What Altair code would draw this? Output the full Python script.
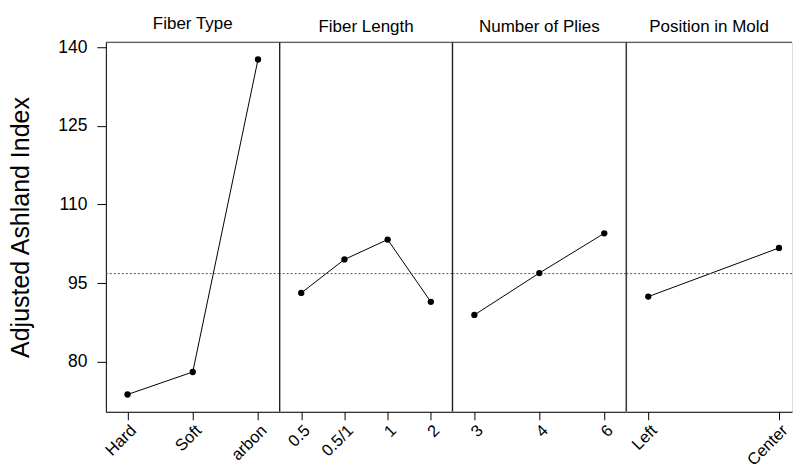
import altair as alt
import pandas as pd

# ---- data ----
factor_titles = ["Fiber Type", "Fiber Length", "Number of Plies", "Position in Mold"]

fiber_type_levels = ["Hard", "Soft", "arbon"]
fiber_type_means = [73.7, 78.0, 137.7]

fiber_length_levels = ["0.5", "0.5/1", "1", "2"]
fiber_length_means = [93.1, 99.5, 103.3, 91.4]

plies_levels = ["3", "4", "6"]
plies_means = [88.9, 96.9, 104.5]

mold_levels = ["Left", "Center"]
mold_means = [92.4, 101.7]

grand_mean = 96.8
y_ticks = [80, 95, 110, 125, 140]
y_domain = [70.4, 141.0]
y_title = "Adjusted Ashland Index"

FONT = "Liberation Sans"
H = 370

panel_specs = [
    (factor_titles[0], fiber_type_levels, fiber_type_means, 174, 0.332, 0.5),
    (factor_titles[1], fiber_length_levels, fiber_length_means, 173, 0.5, 0.5),
    (factor_titles[2], plies_levels, plies_means, 174, 0.338, 0.5),
    (factor_titles[3], mold_levels, mold_means, 166, 0.134, 0.629),
]

one_row = pd.DataFrame({"k": [0]})


def make_panel(title, levels, means, width, pad, align, first):
    df = pd.DataFrame({"level": levels, "mean": means})
    x = alt.X(
        "level:N",
        sort=levels,
        scale=alt.Scale(type="point", padding=pad, align=align),
        axis=alt.Axis(
            title=None, labelAngle=-45, labelFontSize=16.5, labelFont=FONT,
            labelColor="black", tickSize=8, tickColor="black",
            domainColor="black", labelPadding=2,
        ),
    )
    yscale = alt.Scale(domain=y_domain, nice=False, zero=False)
    if first:
        yaxis = alt.Axis(
            values=y_ticks, title=y_title, titleFontSize=25, titleFont=FONT,
            titleFontWeight="normal", titleColor="black", titlePadding=24,
            labelFontSize=17.5, labelFont=FONT, labelColor="black",
            tickSize=9, tickColor="black", domainColor="black",
            labelPadding=10, grid=False,
        )
    else:
        yaxis = None
    y = alt.Y("mean:Q", scale=yscale, axis=yaxis)

    base = alt.Chart(df)
    mean_rule = alt.Chart(pd.DataFrame({"mean": [grand_mean]})).mark_rule(
        color="#555", strokeDash=[2, 2], strokeWidth=1
    ).encode(y=y)
    line = base.mark_line(color="black", strokeWidth=1).encode(x=x, y=y)
    pts = base.mark_point(filled=True, color="black", size=40, opacity=1).encode(x=x, y=y)
    top = alt.Chart(one_row).mark_rule(color="#333", strokeWidth=1).encode(
        x=alt.value(0), x2=alt.value(width), y=alt.value(0)
    )
    layers = [line, mean_rule, top, pts]
    if not first:
        left = alt.Chart(one_row).mark_rule(color="#222", strokeWidth=1.3).encode(
            x=alt.value(0), y=alt.value(0), y2=alt.value(H)
        )
        layers.append(left)
    return alt.layer(*layers).properties(
        width=width, height=H,
        title=alt.TitleParams(title, fontSize=17, font=FONT, fontWeight="normal",
                              color="black", offset=6),
    )


panels = [make_panel(t, l, m, w, p, a, i == 0)
          for i, (t, l, m, w, p, a) in enumerate(panel_specs)]

chart = alt.hconcat(*panels, spacing=0, bounds="flush").properties(
    padding={"left": 8, "top": 13, "right": 0, "bottom": 0}
).configure_view(stroke=None).configure(background="white")

chart.save("out.html", embed_options={"renderer": "svg", "actions": False})
